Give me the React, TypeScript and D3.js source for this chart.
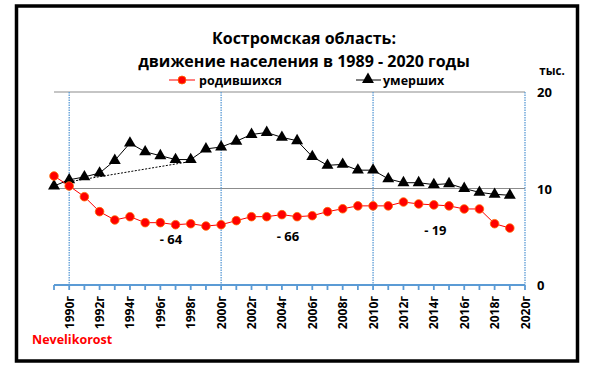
import React from "react";
import * as d3 from "d3";

const years = d3.range(1989, 2020);
const births = [11.3, 10.26, 9.15, 7.6, 6.74, 7.08, 6.46, 6.46, 6.25, 6.35, 6.11, 6.25, 6.67, 7.08, 7.08, 7.29, 7.08, 7.18, 7.6, 7.9, 8.2, 8.2, 8.2, 8.6, 8.4, 8.3, 8.2, 7.88, 7.88, 6.35, 5.9];
const deaths = [10.26, 10.9, 11.2, 11.6, 12.9, 14.7, 13.8, 13.4, 13.0, 13.0, 14.1, 14.3, 14.9, 15.6, 15.8, 15.3, 14.95, 13.3, 12.4, 12.5, 11.9, 11.9, 11.0, 10.6, 10.6, 10.4, 10.5, 10.0, 9.6, 9.4, 9.3];
const trendYears = [1990, 1998];
const trendValues = [10.7, 12.8];
const yTicks = [0, 10, 20];
const gridYears = [1990, 2000, 2010, 2020];
const labelYears = d3.range(1990, 2021, 2);
const annotations = [
  { year: 1996.7, value: 4.8, text: "- 64" },
  { year: 2004.4, value: 5.1, text: "- 66" },
  { year: 2014.1, value: 5.7, text: "-  19" },
];
const titleLines = ["Костромская область:", "движение населения в 1989 - 2020 годы"];

const FONT = "'Open Sans', 'Noto Sans', sans-serif";

export default function App() {
  const x = d3.scaleLinear().domain([1989, 2020]).range([54, 525]);
  const y = d3.scaleLinear().domain([0, 20]).range([285, 92]);
  const line = d3.line<number>().x((_, i) => x(years[i])).y((d) => y(d));
  const tri = d3.symbol().type(d3.symbolTriangle).size(62)();
  const ticks = d3.range(1989, 2021);

  return (
    <svg width={591} height={380} style={{ position: "absolute", left: 0, top: 0 }} fontFamily={FONT}>
      <rect x={0} y={0} width={591} height={380} fill="#fff" />
      <rect x={16.5} y={6} width={561} height={355} fill="none" stroke="#000" strokeWidth={3.5} />
      {titleLines.map((t, i) => (
        <text key={i} x={304} y={44 + i * 23} textAnchor="middle" fontSize={16} fontWeight="bold" fill="#000">{t}</text>
      ))}
      {/* legend */}
      <line x1={169} x2={195} y1={80} y2={80} stroke="#ff0000" strokeWidth={1} />
      <circle cx={182} cy={80} r={4} fill="#ff0000" stroke="#ff6a00" strokeWidth={0.8} />
      <text x={199} y={84.5} fontSize={12.5} fontWeight="bold">родившихся</text>
      <line x1={356} x2={381} y1={80} y2={80} stroke="#000" strokeWidth={1} />
      <path d={tri} transform="translate(368,79.5)" fill="#000" />
      <text x={383} y={84.5} fontSize={12.5} fontWeight="bold">умерших</text>
      <text x={552} y={75} textAnchor="middle" fontSize={11.5} fontWeight="bold">тыс.</text>

      {/* gridlines */}
      {[10, 20].map((v) => (
        <line key={v} x1={x(1989)} x2={x(2020)} y1={y(v)} y2={y(v)} stroke="#8c8c8c" strokeWidth={1.2} />
      ))}
      {gridYears.map((yr) => (
        <line key={yr} x1={x(yr)} x2={x(yr)} y1={y(20)} y2={y(0)} stroke="#5b9bd5" strokeWidth={1.3} strokeDasharray="1.5,1" />
      ))}
      {/* x axis */}
      <line x1={x(1989)} x2={x(2020)} y1={y(0)} y2={y(0)} stroke="#5b9bd5" strokeWidth={2} />
      {ticks.map((t) => (
        <line key={t} x1={x(t)} x2={x(t)} y1={y(0)} y2={y(0) + 5} stroke="#5b9bd5" strokeWidth={1.8} />
      ))}
      {labelYears.map((t) => (
        <text key={t} transform={`translate(${x(t) + 4.5},${y(0) + 11}) rotate(-90)`} textAnchor="end" fontSize={12} fontWeight="bold">{t}г</text>
      ))}
      {yTicks.map((v) => (
        <text key={v} x={537} y={y(v) + 5} fontSize={13} fontWeight="bold">{v}</text>
      ))}

      {/* trend */}
      <line x1={x(trendYears[0])} x2={x(trendYears[1])} y1={y(trendValues[0])} y2={y(trendValues[1])} stroke="#000" strokeWidth={1} strokeDasharray="2,1.5" />

      {/* deaths */}
      <path d={line(deaths) || ""} fill="none" stroke="#000" strokeWidth={1} />
      {deaths.map((d, i) => (
        <path key={i} d={tri} transform={`translate(${x(years[i])},${y(d)})`} fill="#000" />
      ))}
      {/* births */}
      <path d={line(births) || ""} fill="none" stroke="#ff0000" strokeWidth={1} />
      {births.map((d, i) => (
        <circle key={i} cx={x(years[i])} cy={y(d)} r={4.3} fill="#ff0000" stroke="#ff6a00" strokeWidth={0.8} />
      ))}

      {annotations.map((a, i) => (
        <text key={i} x={x(a.year)} y={y(a.value) + 5} textAnchor="middle" fontSize={13} fontWeight="bold">{a.text}</text>
      ))}
      <text x={32} y={344} fontSize={12.5} fontWeight="bold" fill="#ff0000">Nevelikorost</text>
    </svg>
  );
}
